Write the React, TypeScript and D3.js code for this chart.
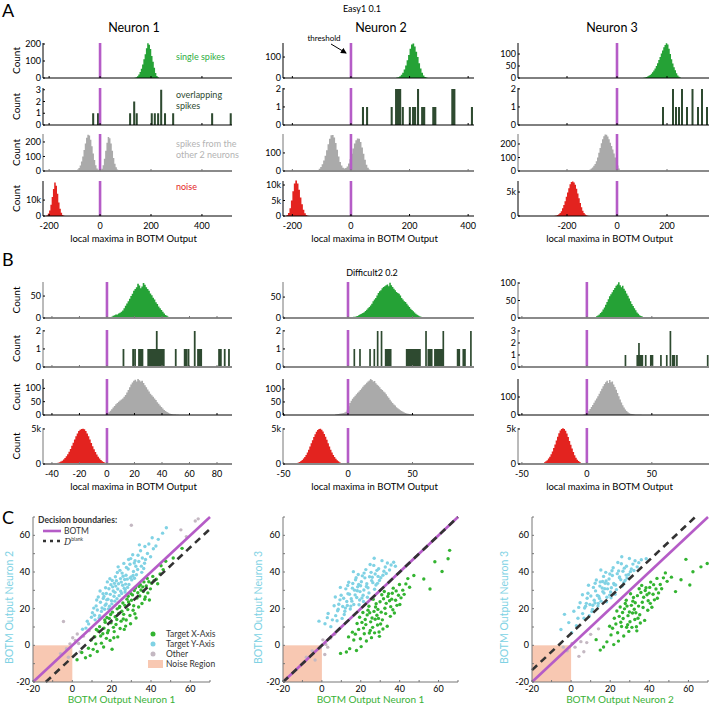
import * as d3 from "d3";

const FONT = "Lato, 'Open Sans', 'DejaVu Sans', sans-serif";
const PURPLE = "#b55cc7";
const GREEN = "#25a236";
const DARK_GREEN = "#2e4a30";
const GREY = "#aaaaaa";
const RED = "#e3231f";
const SKY = "#80d2e4";
const DOT_GREEN = "#33b431";
const OTHER = "#c4b8c2";
const SALMON = "#f8c8b2";

type H = { x0: number; w: number; counts: number[] };
type S = { w: number; bars: number[][] };

// ---------- A: Easy1 0.1 ----------
const aN1Single: H = { x0: 135, w: 5, counts: [2, 5, 10, 20, 35, 55, 80, 110, 140, 175, 205, 195, 170, 130, 95, 60, 30, 12, 4] };
const aN1Overlap: S = { w: 8, bars: [[-27, 1], [-8, 1], [118, 1], [134, 2], [144, 1], [203, 1], [215, 1], [228, 1], [240, 3], [255, 1], [287, 1], [440, 1], [513, 1]] };
const aN1Other: H = { x0: -100, w: 5, counts: [2, 5, 10, 20, 38, 65, 100, 145, 190, 230, 250, 245, 215, 170, 120, 75, 40, 18, 8, 4, 6, 15, 40, 85, 140, 195, 235, 225, 190, 140, 90, 50, 25, 10, 4, 1] };
const aN1Noise: H = { x0: -210, w: 5, counts: [0.5, 1.5, 3.5, 7, 12, 17, 21, 19, 14, 8.5, 4.5, 2, 0.7, 0.2] };

const aN2Single: H = { x0: 155, w: 5, counts: [2, 4, 8, 15, 25, 40, 60, 85, 110, 140, 160, 165, 150, 125, 100, 70, 45, 25, 12, 5, 2] };
const aN2Overlap: S = { w: 7, bars: [[41, 1], [55, 1], [139, 1], [154, 2], [161, 2], [168, 2], [177, 1], [201, 1], [212, 1], [219, 1], [229, 2], [243, 1], [250, 1], [281, 1], [288, 1], [346, 2], [353, 2], [413, 1]] };
const aN2Other: H = { x0: -120, w: 5, counts: [2, 5, 12, 22, 38, 58, 85, 115, 148, 178, 198, 200, 185, 155, 118, 80, 50, 30, 18, 14, 16, 25, 42, 65, 95, 125, 152, 170, 180, 178, 160, 130, 95, 62, 35, 18, 8, 3] };
const aN2Noise: H = { x0: -220, w: 5, counts: [0.3, 1, 2.5, 5, 8, 10.5, 11.5, 10.5, 8.5, 6, 3.8, 2, 0.9, 0.35, 0.1] };

const aN3Single: H = { x0: 105, w: 5, counts: [1, 2, 4, 6, 9, 13, 18, 24, 31, 40, 50, 62, 75, 88, 102, 115, 128, 138, 145, 140, 122, 100, 78, 60, 45, 32, 20, 10, 5, 2] };
const aN3Overlap: S = { w: 8, bars: [[184, 1], [224, 2], [236, 1], [248, 1], [260, 2], [280, 1], [302, 2], [324, 1], [340, 2], [360, 1]] };
const aN3Other: H = { x0: -130, w: 5, counts: [2, 3, 5, 8, 12, 18, 26, 38, 52, 72, 100, 135, 170, 205, 235, 258, 270, 268, 255, 235, 210, 185, 160, 130, 100, 70, 40, 18, 8, 3, 1] };
const aN3Noise: H = { x0: -250, w: 5, counts: [0.05, 0.1, 0.2, 0.35, 0.6, 1, 1.6, 2.3, 3.1, 4, 4.9, 5.8, 6.6, 7.1, 7.2, 7.0, 6.5, 5.7, 4.7, 3.7, 2.7, 1.8, 1.1, 0.6, 0.3, 0.15, 0.05] };

// ---------- B: Difficult2 0.2 ----------
const bN1Single: H = { x0: 2, w: 1, counts: [2, 3, 5, 6, 8, 8, 10, 12, 14, 17, 22, 28, 33, 38, 44, 50, 55, 62, 66, 70, 78, 74, 68, 72, 80, 76, 70, 66, 62, 56, 52, 46, 42, 36, 32, 26, 22, 18, 14, 10, 7, 5, 3, 2] };
const bN1Overlap: S = { w: 1.3, bars: [[12, 1], [19, 1], [20.4, 1], [23.3, 1], [24.6, 1], [25.8, 1], [30, 1], [31.3, 1], [32.6, 1], [33.9, 1], [35.2, 1], [36.2, 2], [37.4, 1], [38.7, 1], [40, 1], [41.3, 1], [50, 1], [56.5, 1], [57.8, 1], [59.3, 1], [63.8, 2], [66.2, 1], [67.5, 1], [68.5, 1], [81.5, 1], [82.8, 1], [85.6, 1], [88.7, 1]] };
const bN1Other: H = { x0: -1, w: 1, counts: [2, 5, 10, 16, 22, 28, 34, 40, 45, 50, 54, 58, 62, 68, 75, 84, 94, 104, 114, 122, 128, 132, 126, 135, 130, 126, 128, 120, 112, 104, 96, 88, 80, 74, 68, 62, 56, 48, 42, 36, 30, 24, 19, 15, 11, 8, 6, 4, 3, 2, 2, 1, 1] };
const bN1Noise: H = { x0: -40, w: 1, counts: [0.02, 0.05, 0.08, 0.12, 0.18, 0.25, 0.35, 0.48, 0.65, 0.85, 1.1, 1.4, 1.75, 2.15, 2.6, 3.05, 3.5, 3.95, 4.35, 4.7, 4.9, 5.0, 5.05, 4.95, 4.7, 4.35, 3.95, 3.5, 3.0, 2.55, 2.1, 1.7, 1.35, 1.05, 0.8, 0.58, 0.4, 0.27, 0.17, 0.1, 0.05] };

const bN2Single: H = { x0: 2, w: 1, counts: [1, 2, 3, 3, 4, 5, 7, 9, 10, 12, 14, 17, 20, 23, 26, 30, 34, 40, 44, 48, 54, 60, 64, 66, 71, 74, 76, 78, 80, 76, 84, 78, 74, 70, 66, 62, 60, 58, 54, 48, 44, 40, 38, 34, 30, 26, 22, 19, 16, 13, 10, 8, 6, 4, 3, 2] };
const bN2Overlap: S = { w: 1.3, bars: [[4.9, 1], [9.3, 1], [17.1, 1], [20.4, 1], [23, 2], [26, 2], [29.2, 1], [30.5, 1], [31.8, 1], [33.1, 1], [45.5, 1], [46.8, 1], [48.1, 1], [49.4, 1], [50.7, 1], [52, 1], [53.3, 1], [54.6, 1], [55.8, 1], [60.5, 2], [62.3, 1], [63.6, 1], [64.9, 1], [67.4, 1], [68.7, 1], [70, 1], [71.3, 1], [72.6, 1], [73.9, 2], [85, 1], [86.3, 1], [89.4, 1], [90.7, 1], [95.3, 2]] };
const bN2Other: H = { x0: -10, w: 1, counts: [2, 3, 4, 5, 6, 7, 8, 10, 12, 20, 34, 46, 55, 62, 68, 74, 80, 85, 90, 96, 102, 108, 114, 118, 124, 128, 132, 138, 134, 128, 130, 122, 116, 112, 106, 100, 96, 90, 86, 80, 72, 66, 58, 52, 46, 40, 36, 30, 26, 22, 18, 15, 12, 10, 8, 6, 5, 4, 3, 2, 1] };
const bN2Noise: H = { x0: -44, w: 1, counts: [0.02, 0.04, 0.07, 0.1, 0.15, 0.22, 0.3, 0.42, 0.58, 0.78, 1.0, 1.3, 1.65, 2.05, 2.5, 2.95, 3.4, 3.85, 4.25, 4.6, 4.85, 5.0, 5.05, 4.9, 4.65, 4.3, 3.9, 3.45, 2.95, 2.5, 2.05, 1.65, 1.3, 1.0, 0.75, 0.55, 0.38, 0.25, 0.16, 0.1, 0.06, 0.03] };

const bN3Single: H = { x0: 4, w: 1, counts: [1, 2, 3, 5, 7, 10, 14, 18, 24, 30, 38, 46, 54, 62, 68, 74, 80, 86, 92, 96, 102, 94, 88, 92, 84, 78, 70, 64, 56, 48, 40, 34, 28, 22, 16, 12, 8, 6, 4, 3, 2, 1, 1] };
const bN3Overlap: S = { w: 1.3, bars: [[29.7, 1], [38.8, 1], [40.1, 2], [41.4, 1], [42.7, 1], [45.3, 1], [49.2, 1], [50.5, 1], [57, 1], [61.5, 1], [64.3, 3], [66.1, 1], [67.4, 1], [69.3, 1], [93, 1]] };
const bN3Other: H = { x0: -3, w: 1, counts: [2, 4, 8, 14, 24, 34, 44, 56, 68, 80, 92, 104, 118, 132, 146, 160, 172, 182, 190, 178, 195, 182, 186, 170, 156, 140, 122, 104, 86, 70, 54, 42, 30, 22, 15, 10, 7, 5, 4, 3, 2, 2, 1, 1, 1] };
const bN3Noise: H = { x0: -37, w: 1, counts: [0.03, 0.06, 0.1, 0.16, 0.25, 0.38, 0.55, 0.78, 1.05, 1.4, 1.8, 2.3, 2.8, 3.35, 3.9, 4.4, 4.8, 5.0, 5.1, 5.0, 4.75, 4.35, 3.85, 3.3, 2.75, 2.2, 1.7, 1.25, 0.9, 0.62, 0.42, 0.27, 0.16, 0.09, 0.05, 0.02] };

// ---------- C: scatter clouds (x,y pairs) ----------
const c1Blue = "12.7,19.3 21.4,33.8 17.2,22.6 26.9,30.4 8.3,11.7 31.5,44.9 23.8,27.1 15.6,28.2 19.9,24.3 28.4,41.6 35.1,43.2 10.2,17.8 24.5,36.4 13.9,16.2 30.2,35.7 18.6,30.9 22.7,25.4 33.4,49.1 27.3,38.2 16.4,19.7 20.8,29.6 6.9,9.4 25.6,32.8 29.7,47.3 14.3,23.5 37.2,46.8 21.9,37.4 11.6,13.9 32.6,38.5 19.3,27.8 26.2,44.7 17.8,34.6 23.1,30.7 38.9,55.3 15.1,20.4 28.8,33.2 24.2,40.9 9.7,15.3 34.7,51.6 20.1,22.6 27.9,36.1 13.2,26.4 31.1,40.3 18.1,25.1 22.4,35.2 36.3,41.9 25.1,28.3 16.9,31.4 29.3,44.2 12.1,21.5 33.8,45.7 21.2,26.8 26.6,35.9 19.6,33.1 41.2,52.7 14.8,18.5 30.7,49.4 24.9,34.5 17.5,24.8 35.6,47.6 10.9,20.3 28.1,31.6 22.9,39.7 39.8,48.3 16.1,26.7 32.3,43.1 20.5,31.9 27.5,42.5 11.3,16.4 25.8,37.7 36.9,53.9 18.9,21.3 30.9,38.1 23.5,33.6 43.7,57.8 15.7,25.6 29.9,37.3 21.7,28.9 34.1,54.8 26.4,31.2 13.6,14.9 31.9,46.2 19.1,36.3 24.6,29.5 38.2,50.1 17.3,28.3 28.6,46.8 22.1,32.3 45.9,61.2 12.4,24.7 33.2,41.4 20.3,35.4 27.1,33.4 7.6,13.1 35.3,39.8 23.3,42.8 29.4,36.8 16.7,21.9 40.6,58.7 25.3,39.4 18.4,19.9 31.6,36.6 14.1,29.6 36.7,44.8 21.6,24.1 47.8,64.1 5.2,8.8 42.5,54.2 26.8,29.1";
const c1Green = "22.6,14.1 17.3,3.8 28.9,22.4 11.4,4.7 33.7,20.9 25.2,18.6 14.8,1.2 30.6,27.5 19.7,12.3 36.8,25.1 8.2,-1.6 27.4,13.8 23.9,20.7 40.3,33.9 16.1,9.4 31.8,17.2 21.3,7.5 34.9,30.2 12.7,-3.4 26.1,16.9 38.4,28.6 18.8,14.7 29.6,11.8 24.3,9.2 42.7,36.1 15.5,6.3 32.9,25.8 20.4,18.1 37.6,32.4 9.6,2.9 28.2,19.5 23.1,4.6 35.4,22.8 13.9,10.2 30.1,24.6 26.7,21.8 4.8,-3.9 39.7,30.8 17.9,6.9 33.3,28.7 21.8,15.6 44.6,38.9 11.9,0.8 27.8,25.2 36.1,29.4 19.2,2.7 31.2,21.6 24.8,13.2 41.5,35.2 14.4,5.1 29.3,16.3 22.2,11.4 34.3,26.9 6.7,-6.8 25.7,23.1 38.9,34.7 16.7,12.6 32.4,14.9 20.9,9.8 43.4,33.6 10.6,-2.2 28.6,23.7 35.8,31.9 18.3,8.1 30.9,19.1 23.6,17.4 46.2,41.3 13.1,7.8 37.1,26.4 26.4,8.7 33.9,32.1 21.1,4.1 29.8,28.2 15.9,-0.9 40.9,37.6 24.1,21.2 31.5,29.9 19.5,16.8 36.4,34.6 27.1,10.5 2.4,-7.9 38.1,36.5 22.8,19.9 45.1,43.4 17.6,15.2 34.6,33.1 12.2,8.6 28.4,26.8 47.5,45.9 9.1,-5.6 39.2,24.7 25.9,14.4 20.2,-2.1 32.1,31.3 16.5,13.8 51.3,47.6 55.8,52.9";
const c1Other = "-4.5,13.0 -1.2,0.8 1.5,2.6 3.2,1.0 -3.0,-1.8 0.2,4.1 5.6,5.0 2.5,6.2 -6.0,-4.5 55.2,63.0 62.5,67.8 64.0,69.0 58.0,59.3 30.0,65.5 -2.0,-6.5 8.5,8.0 4.0,-3.5";

const c2Blue = "14.2,27.9 8.7,22.4 21.6,30.2 17.3,35.8 5.4,13.9 25.9,37.1 11.8,18.6 19.4,24.7 28.3,40.9 15.7,31.2 3.2,17.4 23.1,33.6 9.9,27.3 18.2,29.8 31.4,38.2 13.1,21.7 26.7,43.6 7.1,16.2 20.8,37.9 16.4,22.3 29.6,35.4 12.3,30.8 24.2,28.6 1.6,11.8 19.9,32.5 33.7,44.9 10.4,14.7 22.6,41.3 15.1,25.4 27.8,32.9 6.3,21.6 17.9,26.1 30.9,46.2 13.8,34.4 21.2,27.3 8.1,18.9 25.3,39.8 18.7,38.6 11.2,25.7 34.8,41.1 23.7,31.4 4.6,10.2 16.8,30.1 28.9,37.6 14.6,19.8 20.3,34.7 9.3,24.8 26.2,34.2 32.6,42.7 12.8,23.9 22.1,36.8 17.1,27.5 36.9,45.3 7.8,13.4 24.8,44.1 19.1,22.1 29.2,41.8 15.9,33.7 10.7,21.2 27.1,30.6 21.7,39.4 2.8,15.1 31.9,40.4 18.4,31.9 13.4,28.1 25.6,35.3 16.2,40.2 23.4,26.2 9.5,31.6 30.3,36.9 20.6,25.8 14.9,21.4 26.9,47.5 11.5,16.8 35.6,43.8 19.6,29.3 6.9,26.4 22.9,32.1 17.6,36.9 28.6,33.8 12.1,20.3 -1.5,13.2 24.5,37.4 15.4,24.1 33.1,39.2 18.9,33.2 8.4,19.7 21.4,23.9 27.4,38.9 13.3,32.6 37.8,43.1";
const c2Green = "27.4,14.2 33.1,22.9 21.8,6.3 36.5,19.4 24.6,17.8 30.2,11.6 18.9,8.7 39.4,27.3 26.1,9.8 31.7,25.4 22.3,14.1 35.2,15.8 28.8,19.6 16.4,2.9 41.6,30.1 25.5,4.2 32.8,17.3 20.6,12.5 37.9,24.6 29.4,7.3 23.7,19.2 34.3,28.1 14.3,-1.8 27.9,22.7 31.1,13.9 19.8,3.6 38.6,21.8 25.1,12.8 43.2,33.5 21.4,9.4 30.8,27.6 35.9,25.2 17.2,6.1 28.3,16.4 33.6,10.4 24.2,21.3 40.7,25.9 12.6,-3.6 26.8,18.5 36.7,31.2 22.9,2.4 29.9,23.8 18.1,11.9 32.4,20.2 45.1,31.7 27.1,6.8 23.3,16.6 38.2,29.7 30.5,18.1 20.2,-0.7 34.8,24.3 26.4,25.1 15.7,7.2 42.3,27.8 28.6,11.1 24.9,8.1 37.3,17.6 32.1,29.4 19.4,15.3 29.1,14.7 35.4,21.1 21.1,17.9 39.9,33.2 25.8,14.9 31.4,8.9 17.8,-2.8 33.9,26.7 44.2,36.4 27.6,20.9 22.6,11.3 36.2,28.4 29.6,4.9 40.1,22.3 24.4,6.7 47.3,38.1 52.4,36.2 58.1,45.6 61.8,40.3 65.7,51.8 64.9,47.2 55.6,30.7 9.6,-4.4 13.7,4.6";
const c2Other = "-1.0,-1.5 2.0,0.5 -5.0,-3.0 0.5,3.0 4.5,4.0 -3.5,-8.0 1.5,-5.0 6.5,6.0 -8.0,-6.5 3.0,-1.0";

const c3Blue = "13.4,27.2 7.8,22.9 20.6,31.4 16.1,34.8 3.5,14.8 24.8,37.3 10.9,19.6 18.3,26.2 27.2,42.1 14.7,32.3 1.4,18.6 22.1,33.1 8.6,28.4 17.2,30.9 30.3,40.2 12.2,23.1 25.7,44.5 5.9,17.3 19.8,38.9 15.3,24.1 28.6,36.7 11.4,31.6 23.2,30.4 -1.2,12.4 18.9,33.6 32.7,46.1 9.3,16.2 21.5,42.3 14.1,26.8 26.9,34.1 4.6,23.2 16.8,28.5 29.8,47.4 12.9,35.6 20.2,29.1 6.9,20.4 24.3,40.6 17.7,39.8 10.1,26.9 33.8,42.8 22.8,32.9 2.7,10.7 15.9,31.3 28.1,38.3 13.7,21.4 19.4,36.2 8.2,25.7 25.4,35.8 31.6,44.3 11.8,24.6 21.1,38.1 16.2,29.3 35.9,46.7 6.6,14.8 23.9,45.2 18.1,23.8 28.3,43.1 14.9,34.6 9.6,22.3 26.1,32.4 20.9,40.7 -3.4,16.9 30.8,41.6 17.4,33.9 12.5,29.7 24.7,36.9 15.2,41.1 22.5,27.9 8.9,32.8 29.4,38.6 19.7,27.4 13.9,22.8 25.9,48.3 10.6,18.4 34.6,45.1 18.6,30.8 5.8,27.6 21.8,33.7 16.6,37.6 27.6,35.4 11.1,21.9 -5.2,8.6 23.6,39.1 14.5,25.6 32.1,40.8 17.9,35.1 7.4,21.3 20.4,25.9 26.5,40.4 12.3,33.9 38.4,47.2 0.3,6.9 3.9,20.7";
const c3Green = "31.4,17.6 37.1,26.2 25.8,10.3 40.5,22.9 28.6,21.4 34.2,14.8 22.9,11.6 43.4,30.7 30.1,12.9 35.7,28.8 26.3,17.9 39.2,19.1 32.8,23.2 20.4,5.7 45.6,33.2 29.5,7.6 36.8,20.6 24.6,15.8 41.9,27.9 33.4,10.1 27.7,22.8 38.3,31.4 18.3,1.9 31.9,26.1 35.1,16.7 23.8,6.9 42.6,24.8 29.1,16.2 47.2,36.8 25.4,12.6 34.8,30.9 39.9,28.5 21.2,9.3 32.3,19.7 37.6,13.6 28.2,24.6 44.7,28.6 16.6,-0.9 30.8,21.8 40.7,34.5 26.9,5.1 33.9,27.1 22.1,14.8 36.4,23.5 49.1,34.9 31.1,9.8 27.3,19.9 42.2,33.1 34.5,21.4 24.2,2.3 38.8,27.6 30.4,28.1 19.7,10.4 46.3,30.9 32.6,14.1 28.9,11.2 41.3,20.8 36.1,32.7 23.4,18.7 33.1,17.8 39.4,24.3 25.1,20.9 43.9,36.5 29.8,18.2 35.4,12.2 21.8,0.4 37.9,29.9 48.2,39.5 31.6,24.1 26.6,14.6 40.2,31.6 33.6,7.9 44.1,25.7 28.4,9.9 51.3,37.2 56.2,35.8 58.7,46.9 62.3,40.1 66.4,42.8 69.6,44.6 60.7,32.9 53.4,29.3 12.8,3.1 14.9,-2.6";
const c3Other = "2.0,-1.0 5.0,2.0 -2.0,-3.0 8.0,1.5 4.0,-6.0 0.5,1.0 10.0,6.0 -4.0,-1.0 6.5,-3.5 14.0,9.0";

// offset of the dashed boundary from y = x in each scatter
const dashOffsets = [-6.5, 0, 6.5];

const pts = (s: string) => s.trim().split(/\s+/).map((p) => p.split(",").map(Number));

function barsPath(h: H, x: any, y: any) {
  let d = "";
  h.counts.forEach((c, i) => {
    if (c <= 0) return;
    const xa = x(h.x0 + i * h.w);
    const xb = x(h.x0 + (i + 1) * h.w);
    d += `M${xa},${y(0)}V${y(c)}H${xb + 0.25}V${y(0)}Z`;
  });
  return d;
}

function spikesPath(s: S, x: any, y: any) {
  return s.bars
    .map(([c, n]) => `M${x(c - s.w / 2)},${y(0)}V${y(n)}H${x(c + s.w / 2)}V${y(0)}Z`)
    .join("");
}

type RowCfg = {
  hist?: H;
  spikes?: S;
  color: string;
  yMax: number;
  ticks: number[];
  fmt?: (v: number) => string;
  base: string;
};

type ColCfg = {
  left: number;
  right: number;
  dom: [number, number];
  xTicks: number[];
  rows: RowCfg[];
};

const kFmt = (v: number) => (v === 0 ? "0" : `${v}k`);

function HistColumn({ col, tops, bottoms, count }: { col: ColCfg; tops: number[]; bottoms: number[]; count: boolean }) {
  const x = d3.scaleLinear().domain(col.dom).range([col.left, col.right]);
  const last = bottoms[bottoms.length - 1];
  return (
    <g>
      {col.rows.map((r, i) => {
        const y = d3.scaleLinear().domain([0, r.yMax]).range([bottoms[i], tops[i]]);
        const thick = r.base !== "#000";
        return (
          <g key={i}>
            {r.hist && <path d={barsPath(r.hist, x, y)} fill={r.color} />}
            {r.spikes && <path d={spikesPath(r.spikes, x, y)} fill={r.color} />}
            <line x1={x(0)} x2={x(0)} y1={tops[i]} y2={bottoms[i]} stroke={PURPLE} strokeWidth={2.6} />
            <line x1={col.left} x2={col.right} y1={bottoms[i]} y2={bottoms[i]} stroke={r.base} strokeWidth={thick ? 1.8 : 1} />
            <line x1={col.left} x2={col.left} y1={tops[i]} y2={bottoms[i]} stroke={thick ? "#777" : "#000"} strokeWidth={1} />
            {col.xTicks.map((t) => (
              <line key={t} x1={x(t)} x2={x(t)} y1={bottoms[i]} y2={bottoms[i] - 2} stroke={thick ? "#777" : "#000"} />
            ))}
            {r.ticks.map((t) => (
              <g key={t}>
                <line x1={col.left} x2={col.left + 2} y1={y(t)} y2={y(t)} stroke="#000" />
                <text x={col.left - 2} y={y(t)} dy="0.35em" textAnchor="end" fontSize={9} fontFamily={FONT}>
                  {r.fmt ? r.fmt(t) : t}
                </text>
              </g>
            ))}
            {count && (
              <text
                transform={`translate(20,${(tops[i] + bottoms[i]) / 2}) rotate(-90)`}
                textAnchor="middle"
                fontSize={10}
                fontFamily={FONT}
              >
                Count
              </text>
            )}
          </g>
        );
      })}
      {col.xTicks.map((t) => (
        <text key={t} x={x(t)} y={last + 12.5} textAnchor="middle" fontSize={9} fontFamily={FONT}>
          {t}
        </text>
      ))}
      <text x={(col.left + col.right) / 2 - 4} y={last + 25.5} textAnchor="middle" fontSize={9.5} fontFamily={FONT}>
        local maxima in BOTM Output
      </text>
    </g>
  );
}

const colsA: ColCfg[] = [
  {
    left: 43, right: 232, dom: [-224, 518], xTicks: [-200, 0, 200, 400],
    rows: [
      { hist: aN1Single, color: GREEN, yMax: 206, ticks: [0, 100, 200], base: "#000" },
      { spikes: aN1Overlap, color: DARK_GREEN, yMax: 3.15, ticks: [0, 1, 2, 3], base: "#000" },
      { hist: aN1Other, color: GREY, yMax: 255, ticks: [0, 100, 200], base: "#8a8a8a" },
      { hist: aN1Noise, color: RED, yMax: 22, ticks: [0, 10], fmt: kFmt, base: "#000" },
    ],
  },
  {
    left: 283, right: 474, dom: [-232, 420], xTicks: [-200, 0, 200, 400],
    rows: [
      { hist: aN2Single, color: GREEN, yMax: 167, ticks: [0, 100], base: "#000" },
      { spikes: aN2Overlap, color: DARK_GREEN, yMax: 2.05, ticks: [0, 1, 2], base: "#000" },
      { hist: aN2Other, color: GREY, yMax: 205, ticks: [0, 100], base: "#8a8a8a" },
      { hist: aN2Noise, color: RED, yMax: 11.3, ticks: [0, 5, 10], fmt: kFmt, base: "#000" },
    ],
  },
  {
    left: 518, right: 709, dom: [-396, 368], xTicks: [-200, 0, 200],
    rows: [
      { hist: aN3Single, color: GREEN, yMax: 146, ticks: [0, 50, 100], base: "#000" },
      { spikes: aN3Overlap, color: DARK_GREEN, yMax: 2.05, ticks: [0, 1, 2], base: "#000" },
      { hist: aN3Other, color: GREY, yMax: 274, ticks: [0, 100, 200], base: "#8a8a8a" },
      { hist: aN3Noise, color: RED, yMax: 7.3, ticks: [0, 5], fmt: kFmt, base: "#000" },
    ],
  },
];

const colsB: ColCfg[] = [
  {
    left: 43, right: 232, dom: [-46.5, 90.9], xTicks: [-40, -20, 0, 20, 40, 60, 80],
    rows: [
      { hist: bN1Single, color: GREEN, yMax: 82, ticks: [0, 50], base: "#8a8a8a" },
      { spikes: bN1Overlap, color: DARK_GREEN, yMax: 2.05, ticks: [0, 1, 2], base: "#8a8a8a" },
      { hist: bN1Other, color: GREY, yMax: 135, ticks: [0, 50, 100], base: "#000" },
      { hist: bN1Noise, color: RED, yMax: 5.14, ticks: [0, 5], fmt: kFmt, base: "#8a8a8a" },
    ],
  },
  {
    left: 283, right: 474, dom: [-50.4, 97.7], xTicks: [-50, 0, 50],
    rows: [
      { hist: bN2Single, color: GREEN, yMax: 86, ticks: [0, 50], base: "#8a8a8a" },
      { spikes: bN2Overlap, color: DARK_GREEN, yMax: 2.05, ticks: [0, 1, 2], base: "#8a8a8a" },
      { hist: bN2Other, color: GREY, yMax: 138, ticks: [0, 50, 100], base: "#000" },
      { hist: bN2Noise, color: RED, yMax: 5.14, ticks: [0, 5], fmt: kFmt, base: "#8a8a8a" },
    ],
  },
  {
    left: 518, right: 709, dom: [-53, 94], xTicks: [-50, 0, 50],
    rows: [
      { hist: bN3Single, color: GREEN, yMax: 103, ticks: [0, 50, 100], base: "#8a8a8a" },
      { spikes: bN3Overlap, color: DARK_GREEN, yMax: 3.08, ticks: [0, 1, 2, 3], base: "#8a8a8a" },
      { hist: bN3Other, color: GREY, yMax: 200, ticks: [0, 100], base: "#000" },
      { hist: bN3Noise, color: RED, yMax: 5.14, ticks: [0, 5], fmt: kFmt, base: "#8a8a8a" },
    ],
  },
];

type ScCfg = {
  left: number;
  right: number;
  blue: string;
  green: string;
  other: string;
  off: number;
  xLabel: string;
  yLabel: string;
  yLabelX: number;
  legend: boolean;
};

const scatters: ScCfg[] = [
  { left: 33, right: 210, blue: c1Blue, green: c1Green, other: c1Other, off: dashOffsets[0], xLabel: "BOTM Output Neuron 1", yLabel: "BOTM Output Neuron 2", yLabelX: 13, legend: true },
  { left: 283, right: 458, blue: c2Blue, green: c2Green, other: c2Other, off: dashOffsets[1], xLabel: "BOTM Output Neuron 1", yLabel: "BOTM Output Neuron 3", yLabelX: 262, legend: false },
  { left: 532, right: 708, blue: c3Blue, green: c3Green, other: c3Other, off: dashOffsets[2], xLabel: "BOTM Output Neuron 2", yLabel: "BOTM Output Neuron 3", yLabelX: 508, legend: false },
];

function Scatter({ s }: { s: ScCfg }) {
  const top = 517;
  const bottom = 682;
  const x = d3.scaleLinear().domain([-20, 70]).range([s.left, s.right]);
  const y = d3.scaleLinear().domain([-20, 70]).range([bottom, top]);
  const ticks = d3.range(-20, 71, 10);
  const dx0 = Math.max(-20, -20 - s.off);
  const dx1 = Math.min(70, 70 - s.off);
  const dot = (c: string, key: string) =>
    pts(key).map(([a, b], i) => <circle key={i} cx={x(a)} cy={y(b)} r={1.7} fill={c} />);
  return (
    <g>
      <rect x={x(-20)} y={y(0)} width={x(0) - x(-20)} height={y(-20) - y(0)} fill={SALMON} />
      {dot(OTHER, s.other)}
      {dot(DOT_GREEN, s.green)}
      {dot(SKY, s.blue)}
      <line x1={x(-20)} y1={y(-20)} x2={x(70)} y2={y(70)} stroke={PURPLE} strokeWidth={2.6} />
      <line x1={x(dx0)} y1={y(dx0 + s.off)} x2={x(dx1)} y2={y(dx1 + s.off)} stroke="#333" strokeWidth={2.6} strokeDasharray="7,5" />
      <line x1={s.left} x2={s.right} y1={bottom} y2={bottom} stroke="#777" />
      <line x1={s.left} x2={s.left} y1={top} y2={bottom} stroke="#777" />
      {ticks.map((t) => (
        <g key={t}>
          <line x1={x(t)} x2={x(t)} y1={bottom} y2={bottom - 2} stroke="#777" />
          <line x1={s.left} x2={s.left + 2} y1={y(t)} y2={y(t)} stroke="#777" />
          {t % 20 === 0 && (
            <>
              <text x={x(t)} y={bottom + 10} textAnchor="middle" fontSize={9} fontFamily={FONT}>{t}</text>
              <text x={s.left - 3} y={y(t)} dy="0.35em" textAnchor="end" fontSize={9} fontFamily={FONT}>{t}</text>
            </>
          )}
        </g>
      ))}
      <text x={(s.left + s.right) / 2} y={703} textAnchor="middle" fontSize={10} fontFamily={FONT} fill="#39b136">
        {s.xLabel}
      </text>
      <text transform={`translate(${s.yLabelX},${(top + bottom) / 2 + 8}) rotate(-90)`} textAnchor="middle" fontSize={10.5} fontFamily={FONT} fill={SKY}>
        {s.yLabel}
      </text>
      {s.legend && (
        <g fontFamily={FONT} fontSize={8.5} fill="#333">
          <text x={38} y={523} fontWeight={700}>Decision boundaries:</text>
          <line x1={43} x2={61} y1={531} y2={531} stroke={PURPLE} strokeWidth={2.6} />
          <text x={64} y={534}>BOTM</text>
          <line x1={43} x2={61} y1={541} y2={541} stroke="#333" strokeWidth={2.6} strokeDasharray="3,4" />
          <text x={64} y={545} fontFamily="'DejaVu Serif', serif" fontStyle="italic" fontSize={9}>
            D<tspan dy={-4} fontSize={5} fontStyle="normal" fontFamily={FONT}>blank</tspan>
          </text>
          <circle cx={153} cy={634} r={2.5} fill={DOT_GREEN} />
          <text x={166} y={637}>Target X-Axis</text>
          <circle cx={153} cy={644} r={2.5} fill={SKY} />
          <text x={166} y={647}>Target Y-Axis</text>
          <circle cx={153} cy={654} r={2.5} fill={OTHER} />
          <text x={166} y={657}>Other</text>
          <rect x={148} y={660} width={15} height={8} fill={SALMON} />
          <text x={166} y={667}>Noise Region</text>
        </g>
      )}
    </g>
  );
}

export default function App() {
  const topsA = [43, 88, 134, 181];
  const botsA = [78, 125, 171, 216];
  const topsB = [282, 330, 379, 428];
  const botsB = [318, 367, 415, 464];
  return (
    <svg width={709} height={706} style={{ position: "absolute", left: 0, top: 0, background: "#fff" }}>
      <defs>
        <marker id="arr" markerWidth={6} markerHeight={6} refX={5} refY={3} orient="auto">
          <path d="M0,0L6,3L0,6Z" fill="#000" />
        </marker>
      </defs>
      <rect width={709} height={706} fill="#fff" />
      <g fontFamily={FONT}>
        <text x={2} y={17} fontSize={18}>A</text>
        <text x={2} y={266} fontSize={18}>B</text>
        <text x={2} y={524} fontSize={18}>C</text>
        <text x={362} y={12} textAnchor="middle" fontSize={9}>Easy1 0.1</text>
        <text x={134} y={32} textAnchor="middle" fontSize={12.5}>Neuron 1</text>
        <text x={381} y={32} textAnchor="middle" fontSize={12.5}>Neuron 2</text>
        <text x={612} y={32} textAnchor="middle" fontSize={12.5}>Neuron 3</text>
        <text x={372} y={276} textAnchor="middle" fontSize={9}>Difficult2 0.2</text>
        <text x={324} y={41} textAnchor="middle" fontSize={8}>threshold</text>
        <line x1={331} y1={44} x2={346} y2={53} stroke="#000" strokeWidth={1} markerEnd="url(#arr)" />
        <g fontSize={9}>
          <text x={176} y={60} fill="#2fae3f">single spikes</text>
          <text x={176} y={98} fill={DARK_GREEN}>overlapping</text>
          <text x={176} y={109} fill={DARK_GREEN}>spikes</text>
          <text x={176} y={147} fill="#b3b3b3">spikes from the</text>
          <text x={176} y={158} fill="#b3b3b3">other 2 neurons</text>
          <text x={176} y={190} fill={RED}>noise</text>
        </g>
      </g>
      {colsA.map((c, i) => (
        <HistColumn key={"a" + i} col={c} tops={topsA} bottoms={botsA} count={i === 0} />
      ))}
      {colsB.map((c, i) => (
        <HistColumn key={"b" + i} col={c} tops={topsB} bottoms={botsB} count={i === 0} />
      ))}
      {scatters.map((s, i) => (
        <Scatter key={i} s={s} />
      ))}
    </svg>
  );
}
